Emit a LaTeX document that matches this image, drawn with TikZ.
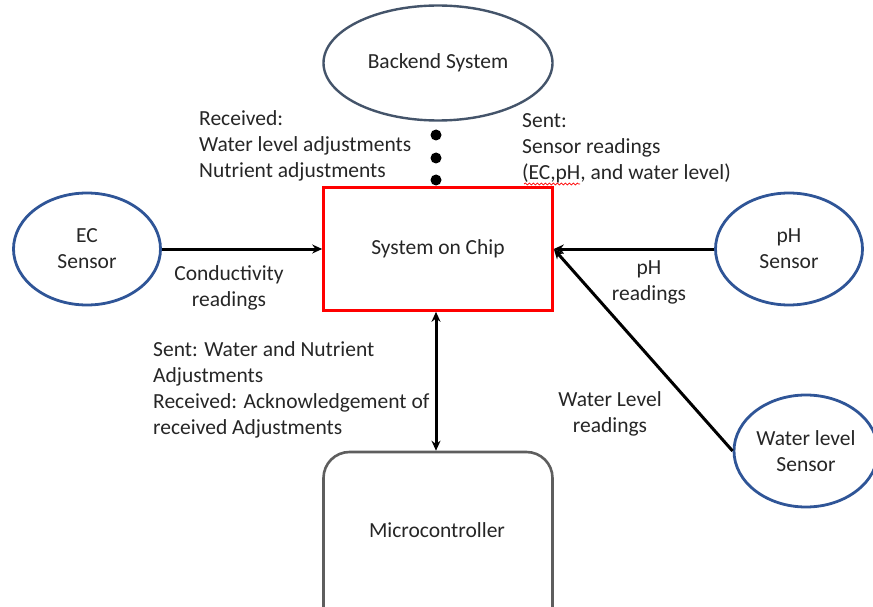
\documentclass[tikz,border=0pt]{standalone}
\usepackage{fontspec}
\setmainfont{Carlito}
\usetikzlibrary{shapes.geometric,arrows.meta,decorations.pathmorphing}

\definecolor{sensorblue}{HTML}{2F5597}
\definecolor{slate}{HTML}{44546A}
\definecolor{boxgray}{HTML}{5E5E5E}
\definecolor{txt}{HTML}{262626}

\tikzset{
  every node/.style={font=\fontsize{21.5}{26}\selectfont, text=txt},
  sensor/.style={ellipse, draw=sensorblue, line width=2.8pt, inner sep=0pt,
                 align=center, minimum width=147pt, minimum height=112pt},
  backend/.style={ellipse, draw=slate, line width=2.4pt, inner sep=0pt,
                  minimum width=229pt, minimum height=115pt},
  chip/.style={rectangle, draw=red, line width=2.6pt, minimum width=229pt,
               minimum height=123pt, inner sep=0pt},
  mcu/.style={rectangle, rounded corners=26pt, draw=boxgray, line width=2.6pt,
              minimum width=229pt, minimum height=200pt, inner sep=0pt},
  dot/.style={circle, fill=black, inner sep=0pt, minimum size=11pt},
  flow/.style={line width=3pt, draw=black, -{Stealth[length=10pt,width=9pt]}},
  twoway/.style={line width=3pt, draw=black,
                 {Stealth[length=10pt,width=9pt]}-{Stealth[length=10pt,width=9pt]}},
  note/.style={align=left, anchor=west, inner sep=0pt},
  cnote/.style={align=center, inner sep=0pt},
}

\begin{document}
\begin{tikzpicture}[x=1pt, y=-1pt]
  \useasboundingbox (0,0) rectangle (873,607);
  \clip (0,0) rectangle (873,607);

  % main blocks
  \node[backend] (be) at (438,63) {Backend System};
  \node[chip] (soc) at (438,249) {System on Chip};
  \node[mcu] (mc) at (438,552) {};
  \node (mctext) at (437,530) {Microcontroller};

  % sensors
  \node[sensor] (ec) at (87,249) {EC\\Sensor};
  \node[sensor] (ph) at (789,249) {pH\\Sensor};
  \node[sensor, minimum width=144pt] (wl) at (806,451) {Water level\\Sensor};

  % link to the backend
  \node[dot] (d1) at (436,135) {};
  \node[dot] (d2) at (436,158) {};
  \node[dot] (d3) at (436,180) {};

  % connectors
  \draw[flow] (ec.east) -- (soc.west);
  \draw[flow] (ph.west) -- (soc.east);
  \draw[flow] (wl.west) -- (soc.east);
  \draw[twoway] (soc.south -| d1) -- (mc.north -| d1);

  % labels
  \node[note] (rx) at (199,146) {Received:\\Water level adjustments\\Nutrient adjustments};
  \node[note] (tx) at (522,148) {Sent:\\Sensor readings\\(EC,pH, and water level)};
  \draw[red, line width=0.7pt, decorate,
        decoration={snake, amplitude=1pt, segment length=4pt}]
        (524,184) -- (580,184);
  \node[cnote] (ecl) at (229,288) {Conductivity\\readings};
  \node[cnote] (phl) at (649,282) {pH\\readings};
  \node[cnote] (wll) at (610,414) {Water Level\\readings};
  \node[note] (mcl) at (153,390) {Sent: Water and Nutrient\\Adjustments\\Received: Acknowledgement of\\received Adjustments};
\end{tikzpicture}
\end{document}
